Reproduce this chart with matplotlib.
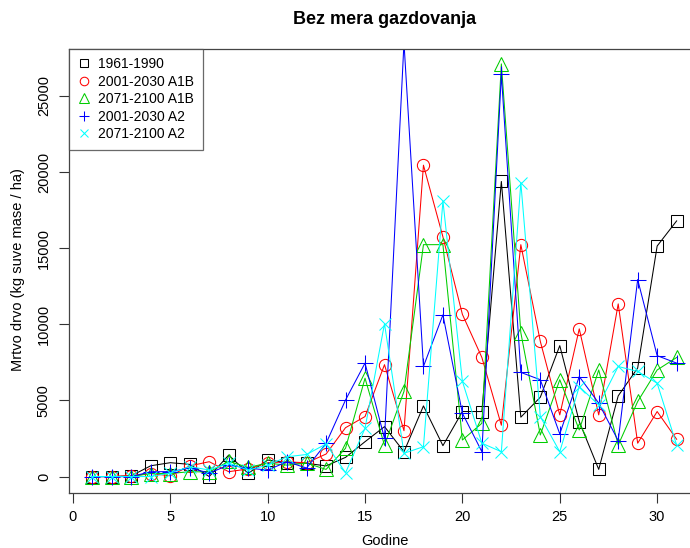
import matplotlib
matplotlib.use("Agg")
import matplotlib.pyplot as plt
from matplotlib.lines import Line2D

plt.rcParams['font.family'] = ['Liberation Sans', 'DejaVu Sans']

years = list(range(1, 32))
series_labels = ["1961-1990", "2001-2030 A1B", "2071-2100 A1B", "2001-2030 A2", "2071-2100 A2"]

s1961_1990 = [0, 0, 50, 710, 910, 800, 0, 1410, 210, 1085, 910, 870, 700, 1260, 2290, 3280,
              1630, 4640, 2030, 4270, 4270, 19380, 3900, 5210, 8600, 3610, 470, 5300, 7130, 15140, 16790]
s2001_2030_A1B = [0, 0, 50, 200, 50, 700, 975, 320, 500, 900, 970, 900, 1480, 3210, 3940, 7350,
                  3010, 20450, 15740, 10650, 7820, 3370, 15230, 8880, 4050, 9700, 4050, 11340, 2190, 4270, 2450]
s2071_2100_A1B = [0, 0, 0, 200, 200, 320, 300, 1000, 600, 880, 750, 880, 470, 1860, 6460, 2050,
                  5590, 15230, 15230, 2400, 3500, 27100, 9450, 2730, 6360, 3060, 7000, 2070, 4930, 7000, 7820]
s2001_2030_A2 = [0, 0, 0, 320, 320, 560, 230, 750, 550, 430, 970, 560, 2180, 5030, 7450, 2500,
                 28500, 7230, 10620, 4160, 1630, 26410, 6840, 6360, 2800, 6570, 4820, 2360, 12940, 7940, 7450]
s2071_2100_A2 = [0, 0, 0, 0, 230, 650, 430, 880, 430, 750, 1300, 1450, 2140, 250, 3170, 10040,
                 1530, 1960, 18100, 6250, 2190, 1630, 19310, 3940, 1630, 5910, 4700, 7230, 6900, 6130, 2070]

xticks = [0, 5, 10, 15, 20, 25, 30]
yticks = [0, 5000, 10000, 15000, 20000, 25000]

all_series = [s1961_1990, s2001_2030_A1B, s2071_2100_A1B, s2001_2030_A2, s2071_2100_A2]
colors = ["black", "#FF0000", "#00CD00", "#0000FF", "#00FFFF"]
markers = ["s", "o", "^", "+", "x"]
msizes = [8.6, 8.8, 9.4, 11.0, 8.0]

fig = plt.figure(figsize=(6.9, 5.48), dpi=100)
ax = fig.add_axes([69/690, 55/548, 631/690, 444/548])

for vals, c, m, ms in zip(all_series, colors, markers, msizes):
    ax.plot(years, vals, color=c, lw=0.75, marker=m, ms=ms, mfc='none', mec=c, mew=0.75)

ax.set_xlim(-0.2, 32.2)
ax.set_ylim(-1080, 28080)
ax.set_xticks(xticks)
ax.set_yticks(yticks)
ax.set_yticklabels([str(v) for v in yticks], rotation=90, va='center')
ax.tick_params(axis='both', direction='out', length=7, width=0.8, colors='#333333',
               labelcolor='black', labelsize=10.5)
ax.tick_params(axis='x', pad=5)
ax.tick_params(axis='y', pad=6)
for sp in ax.spines.values():
    sp.set_color('#444444')
    sp.set_linewidth(0.9)

fig.text(384.5/690, 1 - 20/548, "Bez mera gazdovanja", ha='center', va='center',
         fontsize=13, fontweight='bold')
fig.text(384.5/690, 1 - 541/548, "Godine", ha='center', va='center', fontsize=10.5)
fig.text(18/690, 1 - 270/548, "Mrtvo drvo (kg suve mase / ha)", ha='center', va='center',
         rotation=90, fontsize=10.5)

handles = [Line2D([], [], color=c, marker=m, ls='none', ms=ms * 0.7, mfc='none', mew=0.75)
           for c, m, ms in zip(colors, markers, msizes)]
leg = ax.legend(handles, series_labels, loc='upper left', bbox_to_anchor=(0, 1),
                borderaxespad=0, frameon=True, fancybox=False, fontsize=10,
                handlelength=1.0, handletextpad=0.5, labelspacing=0.25, borderpad=0.6)
leg.get_frame().set_edgecolor('#444444')
leg.get_frame().set_linewidth(0.9)

fig.savefig("out.png", dpi=100)
